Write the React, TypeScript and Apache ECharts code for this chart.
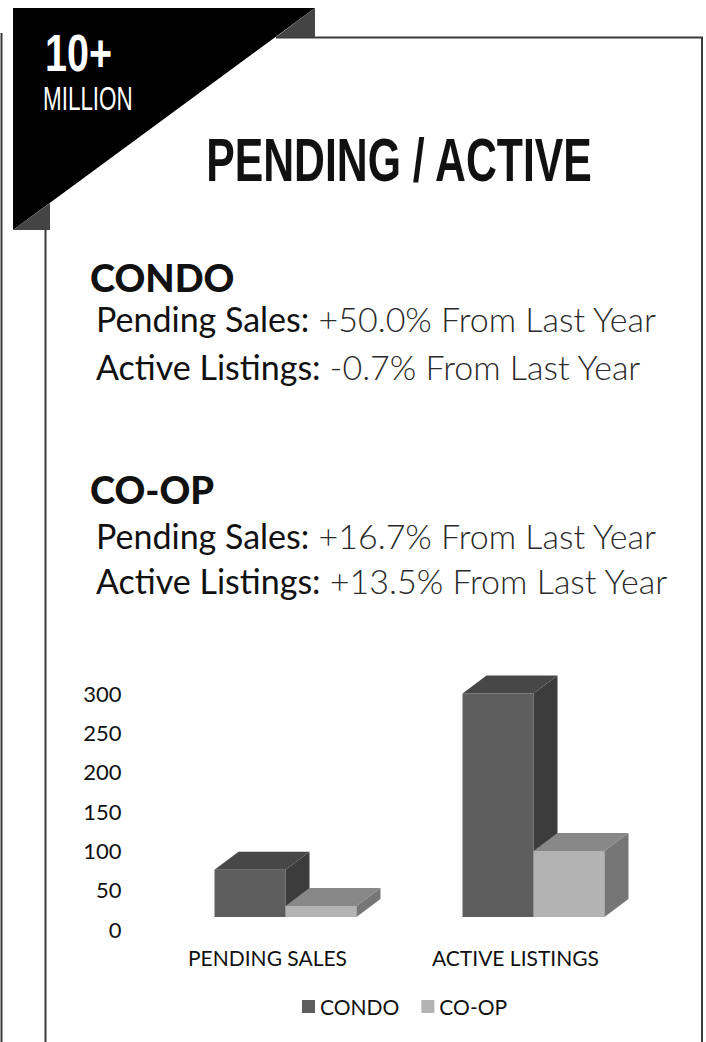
import React, { useEffect, useRef } from "react";
import * as echarts from "echarts";

const categories = ["PENDING SALES", "ACTIVE LISTINGS"];
const seriesNames = ["CONDO", "CO-OP"];
const condoValues = [60, 284];
const coopValues = [14, 84];
const yMin = 0;
const yMax = 300;
const yStep = 50;

const condoLines = [
  ["Pending Sales:", " +50.0% From Last Year"],
  ["Active Listings:", " -0.7% From Last Year"],
];
const coopLines = [
  ["Pending Sales:", " +16.7% From Last Year"],
  ["Active Listings:", " +13.5% From Last Year"],
];

const FRONT = ["#5e5e5e", "#b3b3b3"];
const TOP = ["#474747", "#888888"];
const SIDE = ["#3c3c3c", "#767676"];

const BAR_RATIO = 71 / 248;
const SHIFT_X = 18;
const SHIFT_Y = -12;
const DEPTH_X = 24;
const DEPTH_Y = 18;

const BODY_FONT = "Lato, 'Noto Sans', sans-serif";

function makeRender(idx: number) {
  return (params: any, api: any) => {
    const cat = api.value(0);
    const val = api.value(1);
    const base = api.coord([cat, 0]);
    const top = api.coord([cat, val]);
    const band = api.size([1, 0])[0];
    const bw = band * BAR_RATIO;
    const x0 = base[0] - bw + idx * bw + SHIFT_X;
    const x1 = x0 + bw;
    const yb = base[1] + SHIFT_Y;
    const yt = top[1] + SHIFT_Y;
    return {
      type: "group",
      children: [
        {
          type: "polygon",
          shape: { points: [[x0, yb], [x1, yb], [x1, yt], [x0, yt]] },
          style: { fill: FRONT[idx] },
        },
        {
          type: "polygon",
          shape: {
            points: [[x0, yt], [x1, yt], [x1 + DEPTH_X, yt - DEPTH_Y], [x0 + DEPTH_X, yt - DEPTH_Y]],
          },
          style: { fill: TOP[idx] },
        },
        {
          type: "polygon",
          shape: {
            points: [[x1, yb], [x1 + DEPTH_X, yb - DEPTH_Y], [x1 + DEPTH_X, yt - DEPTH_Y], [x1, yt]],
          },
          style: { fill: SIDE[idx] },
        },
      ],
    };
  };
}

function bodyLine(pair: string[], y: number) {
  return {
    type: "text",
    x: 96,
    y,
    style: {
      text: `{m|${pair[0]}}{l|${pair[1]}}`,
      textVerticalAlign: "top",
      rich: {
        m: { fontFamily: BODY_FONT, fontSize: 34, lineHeight: 34, fontWeight: "normal", fill: "#111" },
        l: { fontFamily: BODY_FONT, fontSize: 34, lineHeight: 34, fontWeight: 300, fill: "#2a2a2a" },
      },
      font: `34px ${BODY_FONT}`,
    },
  };
}

function heading(text: string, y: number) {
  return {
    type: "text",
    x: 90,
    y,
    style: {
      text,
      font: `900 38px ${BODY_FONT}`,
      lineHeight: 38,
      fill: "#111",
      textVerticalAlign: "top",
    },
  };
}

export default function App() {
  const ref = useRef<HTMLDivElement>(null);
  useEffect(() => {
    if (!ref.current) return;
    const chart = echarts.init(ref.current, undefined, { renderer: "svg" });
    const option: any = {
      animation: false,
      backgroundColor: "#ffffff",
      grid: { left: 143.5, top: 693, width: 496, height: 236 },
      xAxis: {
        type: "category",
        data: categories,
        axisLine: { show: false },
        axisTick: { show: false },
        axisLabel: { fontSize: 21, fontFamily: BODY_FONT, color: "#111", margin: 18 },
      },
      yAxis: {
        type: "value",
        min: yMin,
        max: yMax,
        interval: yStep,
        axisLine: { show: false },
        axisTick: { show: false },
        splitLine: { show: false },
        axisLabel: { fontSize: 22, fontFamily: BODY_FONT, color: "#111", margin: 22 },
      },
      legend: {
        left: 297,
        top: 991,
        itemWidth: 13,
        itemHeight: 13,
        itemGap: 22,
        textStyle: { fontSize: 21, fontFamily: BODY_FONT, color: "#111" },
        data: [
          { name: seriesNames[0], icon: "rect", itemStyle: { color: FRONT[0] } },
          { name: seriesNames[1], icon: "rect", itemStyle: { color: FRONT[1] } },
        ],
      },
      series: [
        {
          type: "custom",
          name: seriesNames[0],
          itemStyle: { color: FRONT[0] },
          renderItem: makeRender(0),
          data: condoValues.map((v, i) => [i, v]),
        },
        {
          type: "custom",
          name: seriesNames[1],
          itemStyle: { color: FRONT[1] },
          renderItem: makeRender(1),
          data: coopValues.map((v, i) => [i, v]),
        },
      ],
      graphic: [
        { type: "line", shape: { x1: 1.5, y1: 33, x2: 1.5, y2: 1042 }, style: { stroke: "#3a3a3a", lineWidth: 2 } },
        { type: "line", shape: { x1: 45.5, y1: 230, x2: 45.5, y2: 1042 }, style: { stroke: "#3a3a3a", lineWidth: 2 } },
        { type: "line", shape: { x1: 276, y1: 37.5, x2: 703, y2: 37.5 }, style: { stroke: "#3a3a3a", lineWidth: 2 } },
        { type: "line", shape: { x1: 702, y1: 37, x2: 702, y2: 1042 }, style: { stroke: "#3a3a3a", lineWidth: 2 } },
        { type: "polygon", shape: { points: [[13, 8], [315, 8], [13, 230]] }, style: { fill: "#000" } },
        { type: "polygon", shape: { points: [[315, 8], [315, 37], [276, 37]] }, style: { fill: "#444" } },
        { type: "polygon", shape: { points: [[13, 230], [50, 203], [50, 230]] }, style: { fill: "#444" } },
        {
          type: "text",
          x: 45,
          y: 27,
          scaleX: 0.76,
          style: {
            text: "10+",
            font: "bold 52px 'Liberation Sans', Arial, sans-serif",
            fill: "#fff",
            textVerticalAlign: "top",
          },
        },
        {
          type: "text",
          x: 43,
          y: 81,
          scaleX: 0.66,
          style: {
            text: "MILLION",
            font: "34px 'Liberation Sans', Arial, sans-serif",
            fill: "#fff",
            textVerticalAlign: "top",
          },
        },
        {
          type: "text",
          x: 399,
          y: 128,
          scaleX: 0.69,
          style: {
            text: "PENDING / ACTIVE",
            font: "bold 62px 'Liberation Sans', Arial, sans-serif",
            fill: "#111",
            textAlign: "center",
            textVerticalAlign: "top",
          },
        },
        heading("CONDO", 258),
        bodyLine(condoLines[0], 301),
        bodyLine(condoLines[1], 349),
        heading("CO-OP", 470),
        bodyLine(coopLines[0], 518),
        bodyLine(coopLines[1], 563),
      ],
    };
    chart.setOption(option);
    return () => chart.dispose();
  }, []);
  return (
    <div
      ref={ref}
      style={{ position: "fixed", left: 0, top: 0, width: 706, height: 1042, background: "#fff" }}
    />
  );
}
